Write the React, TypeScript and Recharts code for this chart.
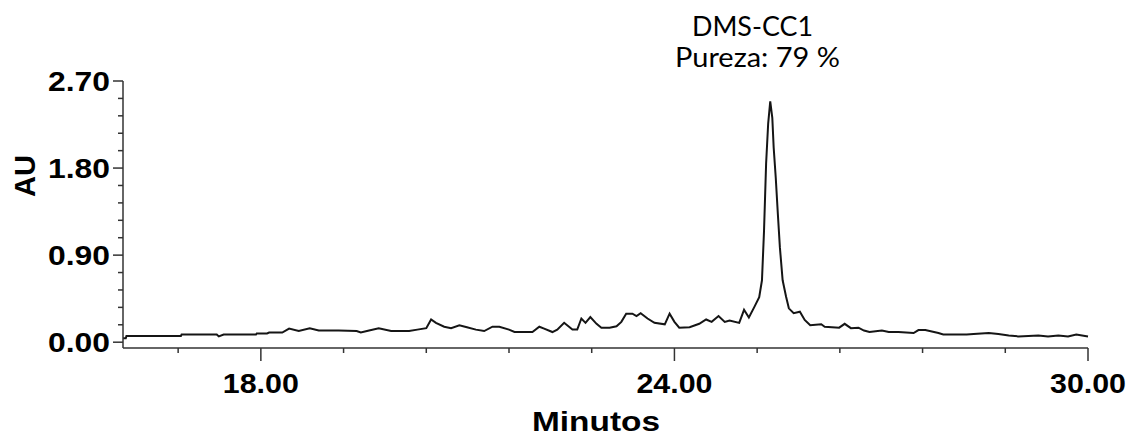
import { LineChart, Line, XAxis, YAxis } from 'recharts';

// retention time (min) and absorbance (AU)
const minutes = [
  16.0, 16.04, 16.05, 16.84, 16.85, 17.36, 17.39, 17.46, 17.93, 17.94, 18.09, 18.12, 18.31,
  18.41, 18.55, 18.71, 18.84, 19.13, 19.39, 19.45, 19.57, 19.71, 19.89, 20.15, 20.27, 20.4,
  20.47, 20.54, 20.66, 20.76, 20.88, 20.99, 21.12, 21.24, 21.36, 21.46, 21.6, 21.68, 21.94,
  22.04, 22.11, 22.23, 22.3, 22.4, 22.52, 22.59, 22.65, 22.71, 22.78, 22.87, 22.94, 23.06,
  23.16, 23.23, 23.3, 23.39, 23.45, 23.51, 23.61, 23.71, 23.86, 23.93, 24.0, 24.07, 24.22,
  24.36, 24.46, 24.54, 24.64, 24.73, 24.8, 24.94, 25.01, 25.08, 25.16, 25.23, 25.27, 25.3,
  25.33, 25.36, 25.39, 25.42, 25.44, 25.47, 25.5, 25.53, 25.57, 25.62, 25.66, 25.73, 25.82,
  25.89, 25.97, 26.13, 26.18, 26.39, 26.47, 26.56, 26.67, 26.75, 26.83, 27.01, 27.11, 27.25,
  27.47, 27.54, 27.64, 27.83, 27.9, 28.24, 28.34, 28.56, 28.7, 28.85, 28.99, 29.28, 29.42,
  29.57, 29.71, 29.83, 30.0,
];
const absorbance = [
  0.04, 0.04, 0.065, 0.065, 0.08, 0.08, 0.06, 0.08, 0.08, 0.09, 0.09, 0.1, 0.1,
  0.14, 0.115, 0.145, 0.12, 0.12, 0.115, 0.1, 0.12, 0.145, 0.115, 0.115, 0.13, 0.145,
  0.235, 0.2, 0.16, 0.145, 0.175, 0.155, 0.13, 0.115, 0.16, 0.16, 0.13, 0.105, 0.105,
  0.16, 0.14, 0.105, 0.13, 0.2, 0.13, 0.13, 0.245, 0.2, 0.26, 0.19, 0.15, 0.15,
  0.165, 0.21, 0.295, 0.295, 0.27, 0.3, 0.245, 0.2, 0.185, 0.295, 0.21, 0.15, 0.155,
  0.19, 0.235, 0.21, 0.27, 0.21, 0.225, 0.2, 0.335, 0.255, 0.365, 0.465, 0.64, 1.155,
  1.845, 2.26, 2.49, 2.32, 2.01, 1.7, 1.33, 0.98, 0.64, 0.47, 0.35, 0.3, 0.315,
  0.23, 0.175, 0.185, 0.16, 0.15, 0.19, 0.145, 0.15, 0.12, 0.105, 0.12, 0.105, 0.105,
  0.095, 0.125, 0.125, 0.095, 0.08, 0.08, 0.085, 0.095, 0.085, 0.07, 0.06, 0.07, 0.06,
  0.07, 0.06, 0.08, 0.06,
];

const xTicks = [16.8, 18, 19.2, 20.4, 21.6, 22.8, 24, 25.2, 26.4, 27.6, 28.8, 30];
const xMajor = [18, 24, 30];
const yTicks = [0, 0.18, 0.36, 0.54, 0.72, 0.9, 1.08, 1.26, 1.44, 1.62, 1.8, 1.98, 2.16, 2.34, 2.52, 2.7];
const yMajor = [0, 0.9, 1.8, 2.7];

const data = minutes.map((t, i) => ({ t, au: absorbance[i] }));

const INK = '#151515';
const AXIS = '#333';
const BOLD = '"Liberation Sans", Arial, sans-serif';
const NOTE = 'Lato, "Open Sans", sans-serif';

function XTick({ x, y, payload }: any) {
  const major = xMajor.includes(payload.value);
  return (
    <g>
      <line x1={x} x2={x} y1={y} y2={y + (major ? 13 : 5)} stroke={AXIS} strokeWidth={1.5} />
      {major && (
        <text x={x} y={y + 45} textAnchor="middle" fontFamily={BOLD} fontWeight="bold" fontSize={28}
          textLength={76} lengthAdjust="spacingAndGlyphs" fill="#000">
          {payload.value.toFixed(2)}
        </text>
      )}
    </g>
  );
}

function YTick({ x, y, payload }: any) {
  const major = yMajor.includes(payload.value);
  return (
    <g>
      <line x1={x - (major ? 10 : 5)} x2={x} y1={y} y2={y} stroke={AXIS} strokeWidth={1.5} />
      {major && (
        <text x={x - 13} y={y + 10} textAnchor="end" fontFamily={BOLD} fontWeight="bold" fontSize={28}
          textLength={62} lengthAdjust="spacingAndGlyphs" fill="#000">
          {payload.value.toFixed(2)}
        </text>
      )}
    </g>
  );
}

export default function App() {
  const w = 1129;
  const h = 439;
  return (
    <div style={{ position: 'absolute', left: 0, top: 0, width: w, height: h, background: '#fff' }}>
      <LineChart width={w} height={h} data={data} margin={{ top: 81, right: 41, bottom: 0, left: 0 }}>
        <XAxis dataKey="t" type="number" domain={[16, 30]} ticks={xTicks} interval={0} height={91}
          tickLine={false} tickSize={0} tickMargin={0} tick={<XTick />}
          axisLine={{ stroke: AXIS, strokeWidth: 1.5 }} />
        <YAxis type="number" domain={[-0.06, 2.7]} ticks={yTicks} interval={0} width={123}
          tickLine={false} tickSize={0} tickMargin={0} tick={<YTick />}
          axisLine={{ stroke: AXIS, strokeWidth: 1.5 }} />
        <Line type="linear" dataKey="au" stroke={INK} strokeWidth={2} dot={false} isAnimationActive={false} />
      </LineChart>
      <svg width={w} height={h} style={{ position: 'absolute', left: 0, top: 0, pointerEvents: 'none' }}>
        <text transform="translate(35,176) rotate(-90)" textAnchor="middle" fontFamily={BOLD} fontWeight="bold"
          fontSize={29} fill="#000">AU</text>
        <text x={596} y={431} textAnchor="middle" fontFamily={BOLD} fontWeight="bold" fontSize={28}
          textLength={128} lengthAdjust="spacingAndGlyphs" fill="#000">Minutos</text>
        <text x={692} y={36} fontFamily={NOTE} fontSize={27} textLength={121} lengthAdjust="spacingAndGlyphs"
          fill="#000">DMS-CC1</text>
        <text x={675} y={67} fontFamily={NOTE} fontSize={27} textLength={165} lengthAdjust="spacingAndGlyphs"
          fill="#000">Pureza: 79 %</text>
      </svg>
    </div>
  );
}
